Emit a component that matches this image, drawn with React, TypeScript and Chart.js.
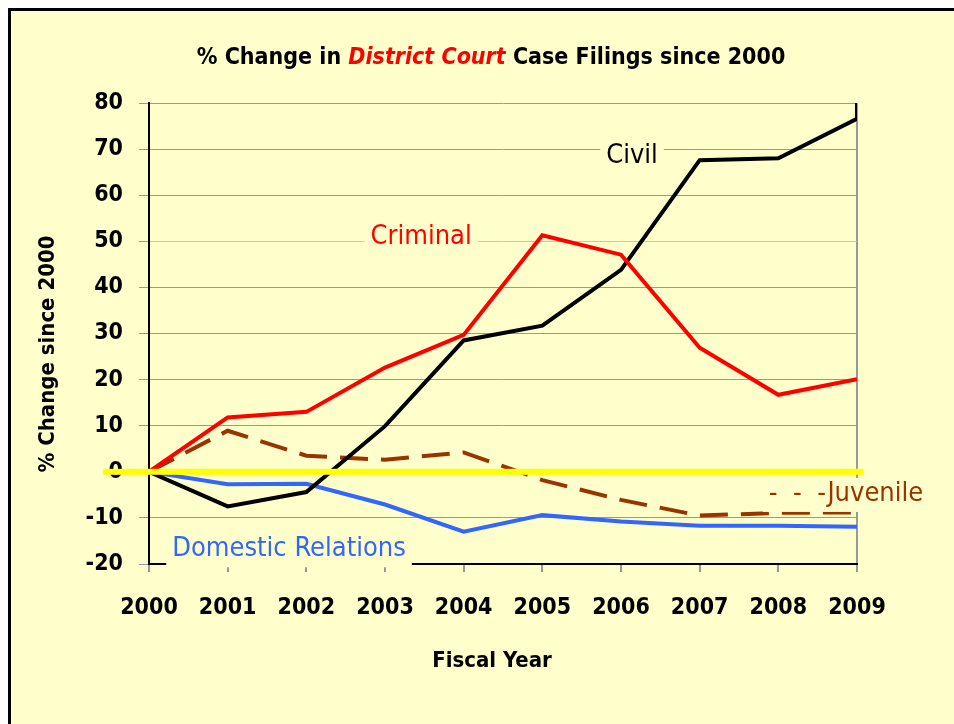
import React, { useEffect, useRef } from "react";
import { Chart, registerables } from "chart.js";

Chart.register(...registerables);

const years = [2000, 2001, 2002, 2003, 2004, 2005, 2006, 2007, 2008, 2009];
const civil = [0, -7.5, -4.4, 9.9, 28.5, 31.7, 43.8, 67.6, 68, 76.6];
const civilEnd = 80; // final vertical rise drawn at 2009
const criminal = [0, 11.8, 13, 22.6, 29.7, 51.3, 47.1, 26.9, 16.7, 20.1];
const juvenile = [0, 8.9, 3.5, 2.6, 4.2, -1.8, -6.1, -9.5, -8.9, -8.8];
const domestic = [0, -2.7, -2.6, -7.1, -13, -9.4, -10.8, -11.7, -11.7, -11.9];
const yTicks = { min: -20, max: 80, step: 10 };

const titleParts = [
  { text: "% Change in ", color: "#000000", italic: false },
  { text: "District Court", color: "#FF0000", italic: true },
  { text: " Case Filings since 2000", color: "#000000", italic: false },
];
const yTitle = "% Change since 2000";
const xTitle = "Fiscal Year";

const seriesLabels = [
  { text: "Criminal", color: "#FF0000", x: 2003.46, y: 50.9 },
  { text: "Civil", color: "#000000", x: 2006.14, y: 68.6 },
  { text: "Domestic Relations", color: "#3366FF", x: 2001.78, y: -16.8 },
  { text: "-  -  -Juvenile", color: "#993300", x: 2008.86, y: -4.8 },
];

const FONT = '"DejaVu Sans Condensed", "DejaVu Sans", sans-serif';
const BG = "#FFFFCC";

const toPts = (vals: number[]) => vals.map((v, i) => ({ x: years[i], y: v }));

const overlay = {
  id: "overlay",
  afterDatasetsDraw(chart: any) {
    const ctx = chart.ctx;
    const xs = chart.scales.x;
    const ys = chart.scales.y;
    ctx.save();
    ctx.font = `27px ${FONT}`;
    ctx.textBaseline = "middle";
    ctx.textAlign = "center";
    for (const l of seriesLabels) {
      const px = xs.getPixelForValue(l.x);
      const py = ys.getPixelForValue(l.y);
      const w = ctx.measureText(l.text).width;
      ctx.fillStyle = BG;
      ctx.fillRect(px - w / 2 - 6, py - 16, w + 12, 34);
      ctx.fillStyle = l.color;
      ctx.fillText(l.text, px, py);
    }
    ctx.restore();
  },
  afterDraw(chart: any) {
    const ctx = chart.ctx;
    const area = chart.chartArea;
    const ys = chart.scales.y;
    ctx.save();
    // zero line
    const y0 = ys.getPixelForValue(0);
    ctx.fillStyle = "#FFFF00";
    ctx.fillRect(area.left - 46, y0 - 3, area.right - area.left + 52, 6);

    // title
    ctx.textBaseline = "middle";
    ctx.textAlign = "left";
    let total = 0;
    const widths = titleParts.map((p) => {
      ctx.font = `${p.italic ? "italic " : ""}bold 23px ${FONT}`;
      const w = ctx.measureText(p.text).width;
      total += w;
      return w;
    });
    let x = 480 - total / 2;
    titleParts.forEach((p, i) => {
      ctx.font = `${p.italic ? "italic " : ""}bold 23px ${FONT}`;
      ctx.fillStyle = p.color;
      ctx.fillText(p.text, x, 47);
      x += widths[i];
    });

    // x title
    ctx.textAlign = "center";
    ctx.font = `bold 22px ${FONT}`;
    ctx.fillStyle = "#000";
    ctx.fillText(xTitle, 481, 650);

    // y title
    ctx.translate(37, 343);
    ctx.rotate(-Math.PI / 2);
    ctx.fillText(yTitle, 0, 0);
    ctx.restore();
  },
};

export default function App() {
  const ref = useRef<HTMLCanvasElement | null>(null);
  useEffect(() => {
    if (!ref.current) return;
    const chart = new Chart(ref.current, {
      type: "line",
      data: {
        datasets: [
          {
            label: "Criminal",
            data: toPts(criminal),
            borderColor: "#FF0000",
            borderWidth: 4,
          },
          {
            label: "Civil",
            data: [...toPts(civil), { x: years[years.length - 1], y: civilEnd }],
            borderColor: "#000000",
            borderWidth: 4,
          },
          {
            label: "Juvenile",
            data: toPts(juvenile),
            borderColor: "#993300",
            borderWidth: 4,
            borderDash: [28, 13],
          },
          {
            label: "Domestic Relations",
            data: toPts(domestic),
            borderColor: "#3366FF",
            borderWidth: 4,
          },
        ],
      },
      options: {
        animation: false,
        responsive: false,
        parsing: false as any,
        elements: { point: { radius: 0 }, line: { tension: 0 } },
        layout: { padding: { top: 92, right: 97, left: 0, bottom: 0 } },
        plugins: { legend: { display: false }, title: { display: false }, tooltip: { enabled: false } },
        scales: {
          x: {
            type: "linear",
            min: years[0],
            max: years[years.length - 1],
            afterFit: (s: any) => {
              s.height = 160;
            },
            ticks: {
              stepSize: 1,
              padding: 22,
              color: "#000",
              font: { family: FONT, size: 23, weight: "bold" },
              callback: (v: any) => String(v),
            },
            grid: {
              color: (c: any) => (c.tick && c.tick.value === years[years.length - 1] ? "#999999" : "rgba(0,0,0,0)"),
              lineWidth: 2,
              tickColor: "#999999",
              tickLength: 8,
            },
            border: { color: "#000000", width: 2 },
          },
          y: {
            min: yTicks.min,
            max: yTicks.max,
            afterFit: (s: any) => {
              s.width = 138;
            },
            ticks: {
              stepSize: yTicks.step,
              padding: 16,
              color: "#000",
              font: { family: FONT, size: 23, weight: "bold" },
            },
            grid: {
              color: (c: any) => (c.tick && c.tick.value === 50 ? "#CCCCA0" : "#999999"),
              lineWidth: 1,
              tickColor: "#999999",
              tickLength: 10,
            },
            border: { color: "#000000", width: 2 },
          },
        },
      },
      plugins: [overlay],
    } as any);
    return () => chart.destroy();
  }, []);
  return (
    <div
      style={{
        position: "fixed",
        left: 8,
        top: 8,
        width: 946,
        height: 716,
        boxSizing: "border-box",
        borderLeft: "3px solid #000008",
        borderTop: "3px solid #000008",
        background: BG,
      }}
    >
      <canvas ref={ref} width={943} height={713} style={{ display: "block" }} />
    </div>
  );
}
